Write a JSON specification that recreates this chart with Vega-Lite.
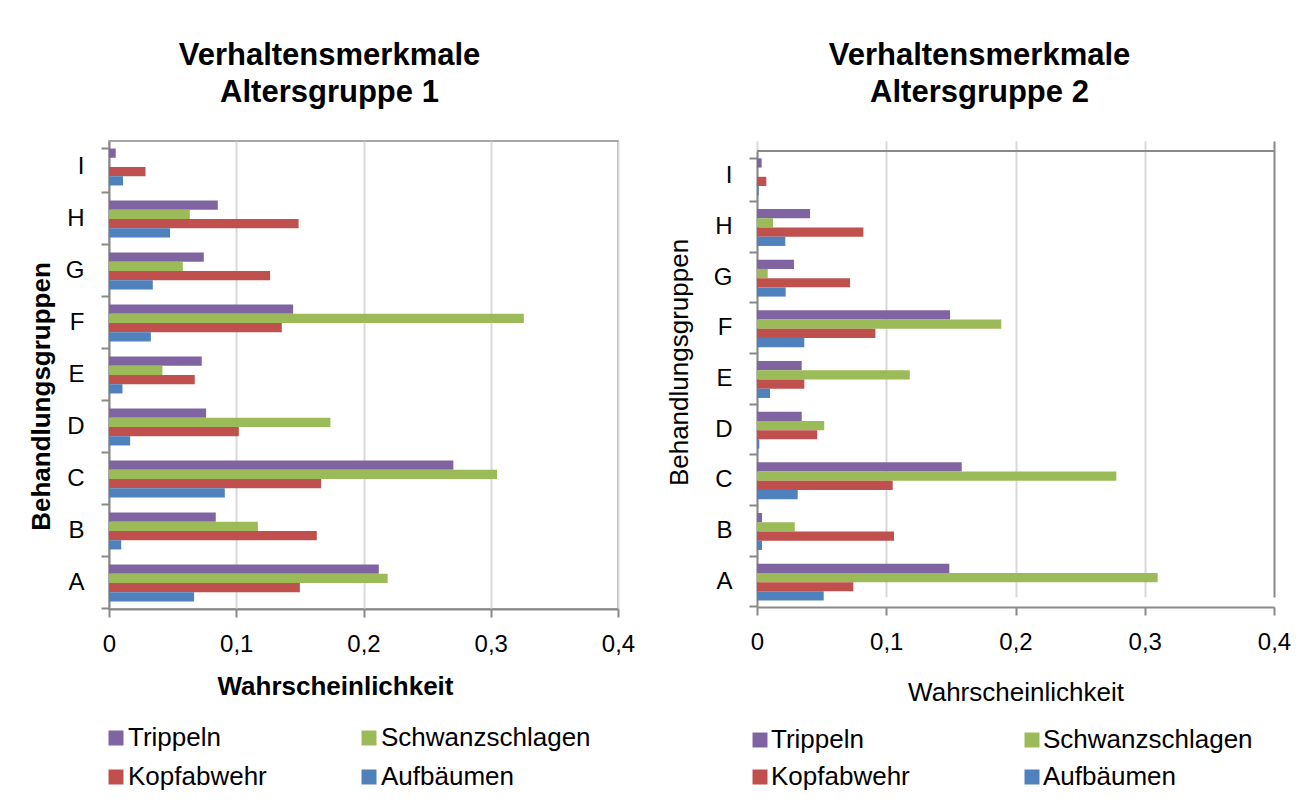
{
  "$schema": "https://vega.github.io/schema/vega-lite/v6.json",
  "padding": {"left": 27, "top": 39, "right": 5, "bottom": 5},
  "background": "white",
  "spacing": 30,
  "config": {
    "font": "Liberation Sans",
    "view": {"stroke": "#898989", "strokeWidth": 1.5},
    "axis": {"labelColor": "black", "titleColor": "black", "domainColor": "#898989", "domainWidth": 2, "tickColor": "#898989", "tickWidth": 2, "tickSize": 8, "gridColor": "#D9D9D9", "gridWidth": 2, "labelFont": "Liberation Sans", "titleFont": "Liberation Sans"},
    "legend": {"labelColor": "black", "labelFont": "Liberation Sans", "labelLimit": 0},
    "title": {"color": "black", "font": "Liberation Sans"}
  },
  "datasets": {
    "g1": [
      {"Gruppe": "I", "Merkmal": "Trippeln", "Wert": 0.0053},
      {"Gruppe": "I", "Merkmal": "Schwanzschlagen", "Wert": 0},
      {"Gruppe": "I", "Merkmal": "Kopfabwehr", "Wert": 0.0287},
      {"Gruppe": "I", "Merkmal": "Aufbäumen", "Wert": 0.011},
      {"Gruppe": "H", "Merkmal": "Trippeln", "Wert": 0.0855},
      {"Gruppe": "H", "Merkmal": "Schwanzschlagen", "Wert": 0.0635},
      {"Gruppe": "H", "Merkmal": "Kopfabwehr", "Wert": 0.149},
      {"Gruppe": "H", "Merkmal": "Aufbäumen", "Wert": 0.048},
      {"Gruppe": "G", "Merkmal": "Trippeln", "Wert": 0.0745},
      {"Gruppe": "G", "Merkmal": "Schwanzschlagen", "Wert": 0.058},
      {"Gruppe": "G", "Merkmal": "Kopfabwehr", "Wert": 0.1266},
      {"Gruppe": "G", "Merkmal": "Aufbäumen", "Wert": 0.0344},
      {"Gruppe": "F", "Merkmal": "Trippeln", "Wert": 0.1447},
      {"Gruppe": "F", "Merkmal": "Schwanzschlagen", "Wert": 0.326},
      {"Gruppe": "F", "Merkmal": "Kopfabwehr", "Wert": 0.1358},
      {"Gruppe": "F", "Merkmal": "Aufbäumen", "Wert": 0.0329},
      {"Gruppe": "E", "Merkmal": "Trippeln", "Wert": 0.0729},
      {"Gruppe": "E", "Merkmal": "Schwanzschlagen", "Wert": 0.042},
      {"Gruppe": "E", "Merkmal": "Kopfabwehr", "Wert": 0.0674},
      {"Gruppe": "E", "Merkmal": "Aufbäumen", "Wert": 0.0106},
      {"Gruppe": "D", "Merkmal": "Trippeln", "Wert": 0.0763},
      {"Gruppe": "D", "Merkmal": "Schwanzschlagen", "Wert": 0.174},
      {"Gruppe": "D", "Merkmal": "Kopfabwehr", "Wert": 0.102},
      {"Gruppe": "D", "Merkmal": "Aufbäumen", "Wert": 0.0166},
      {"Gruppe": "C", "Merkmal": "Trippeln", "Wert": 0.2706},
      {"Gruppe": "C", "Merkmal": "Schwanzschlagen", "Wert": 0.305},
      {"Gruppe": "C", "Merkmal": "Kopfabwehr", "Wert": 0.1667},
      {"Gruppe": "C", "Merkmal": "Aufbäumen", "Wert": 0.091},
      {"Gruppe": "B", "Merkmal": "Trippeln", "Wert": 0.0839},
      {"Gruppe": "B", "Merkmal": "Schwanzschlagen", "Wert": 0.117},
      {"Gruppe": "B", "Merkmal": "Kopfabwehr", "Wert": 0.1633},
      {"Gruppe": "B", "Merkmal": "Aufbäumen", "Wert": 0.0096},
      {"Gruppe": "A", "Merkmal": "Trippeln", "Wert": 0.212},
      {"Gruppe": "A", "Merkmal": "Schwanzschlagen", "Wert": 0.219},
      {"Gruppe": "A", "Merkmal": "Kopfabwehr", "Wert": 0.150},
      {"Gruppe": "A", "Merkmal": "Aufbäumen", "Wert": 0.0669}
    ],
    "g2": [
      {"Gruppe": "I", "Merkmal": "Trippeln", "Wert": 0.0036},
      {"Gruppe": "I", "Merkmal": "Schwanzschlagen", "Wert": 0},
      {"Gruppe": "I", "Merkmal": "Kopfabwehr", "Wert": 0.0072},
      {"Gruppe": "I", "Merkmal": "Aufbäumen", "Wert": 0.0013},
      {"Gruppe": "H", "Merkmal": "Trippeln", "Wert": 0.041},
      {"Gruppe": "H", "Merkmal": "Schwanzschlagen", "Wert": 0.0124},
      {"Gruppe": "H", "Merkmal": "Kopfabwehr", "Wert": 0.0823},
      {"Gruppe": "H", "Merkmal": "Aufbäumen", "Wert": 0.0219},
      {"Gruppe": "G", "Merkmal": "Trippeln", "Wert": 0.0286},
      {"Gruppe": "G", "Merkmal": "Schwanzschlagen", "Wert": 0.0083},
      {"Gruppe": "G", "Merkmal": "Kopfabwehr", "Wert": 0.072},
      {"Gruppe": "G", "Merkmal": "Aufbäumen", "Wert": 0.0222},
      {"Gruppe": "F", "Merkmal": "Trippeln", "Wert": 0.1494},
      {"Gruppe": "F", "Merkmal": "Schwanzschlagen", "Wert": 0.189},
      {"Gruppe": "F", "Merkmal": "Kopfabwehr", "Wert": 0.0916},
      {"Gruppe": "F", "Merkmal": "Aufbäumen", "Wert": 0.0366},
      {"Gruppe": "E", "Merkmal": "Trippeln", "Wert": 0.0346},
      {"Gruppe": "E", "Merkmal": "Schwanzschlagen", "Wert": 0.1182},
      {"Gruppe": "E", "Merkmal": "Kopfabwehr", "Wert": 0.0366},
      {"Gruppe": "E", "Merkmal": "Aufbäumen", "Wert": 0.0101},
      {"Gruppe": "D", "Merkmal": "Trippeln", "Wert": 0.0346},
      {"Gruppe": "D", "Merkmal": "Schwanzschlagen", "Wert": 0.052},
      {"Gruppe": "D", "Merkmal": "Kopfabwehr", "Wert": 0.0466},
      {"Gruppe": "D", "Merkmal": "Aufbäumen", "Wert": 0.0018},
      {"Gruppe": "C", "Merkmal": "Trippeln", "Wert": 0.1584},
      {"Gruppe": "C", "Merkmal": "Schwanzschlagen", "Wert": 0.278},
      {"Gruppe": "C", "Merkmal": "Kopfabwehr", "Wert": 0.105},
      {"Gruppe": "C", "Merkmal": "Aufbäumen", "Wert": 0.0315},
      {"Gruppe": "B", "Merkmal": "Trippeln", "Wert": 0.0039},
      {"Gruppe": "B", "Merkmal": "Schwanzschlagen", "Wert": 0.0292},
      {"Gruppe": "B", "Merkmal": "Kopfabwehr", "Wert": 0.106},
      {"Gruppe": "B", "Merkmal": "Aufbäumen", "Wert": 0.0039},
      {"Gruppe": "A", "Merkmal": "Trippeln", "Wert": 0.1488},
      {"Gruppe": "A", "Merkmal": "Schwanzschlagen", "Wert": 0.31},
      {"Gruppe": "A", "Merkmal": "Kopfabwehr", "Wert": 0.0745},
      {"Gruppe": "A", "Merkmal": "Aufbäumen", "Wert": 0.0516}
    ]
  },
  "resolve": {"legend": {"color": "independent"}},
  "hconcat": [
    {
      "width": 509,
      "height": 468,
      "data": {"name": "g1"},
      "title": {"text": ["Verhaltensmerkmale", "Altersgruppe 1"], "fontSize": 31, "fontWeight": "bold", "lineHeight": 37, "baseline": "alphabetic", "offset": -4, "dx": -34, "anchor": "middle"},
      "mark": {"type": "bar"},
      "encoding": {
        "y": {"field": "Gruppe", "type": "nominal", "sort": ["I", "H", "G", "F", "E", "D", "C", "B", "A"], "scale": {"domain": ["I", "H", "G", "F", "E", "D", "C", "B", "A"], "paddingInner": 0.29, "paddingOuter": 0.145},
          "axis": {"title": "Behandlungsgruppen", "titleFontSize": 26, "titleFontWeight": "bold", "titleY": 255, "titlePadding": 11, "labelFontSize": 24, "labelPadding": 17, "bandPosition": 1.204, "tickExtra": true, "labelAngle": 0}},
        "yOffset": {"field": "Merkmal", "sort": ["Trippeln", "Schwanzschlagen", "Kopfabwehr", "Aufbäumen"]},
        "x": {"field": "Wert", "type": "quantitative", "scale": {"domain": [0, 0.4]},
          "axis": {"values": [0, 0.1, 0.2, 0.3, 0.4], "labelFlush": false, "labelExpr": "datum.value == 0 ? '0' : replace(format(datum.value, '.1f'), '.', ',')", "title": "Wahrscheinlichkeit", "titleFontSize": 26, "titleFontWeight": "bold", "titleX": 226, "labelFontSize": 24, "labelPadding": 15, "titlePadding": 17, "grid": true}},
        "color": {"field": "Merkmal", "type": "nominal", "scale": {"domain": ["Trippeln", "Schwanzschlagen", "Kopfabwehr", "Aufbäumen"], "range": ["#8064A2", "#9BBB59", "#C0504D", "#4F81BD"]},
          "legend": {"orient": "bottom", "title": null, "columns": 2, "symbolType": "square", "symbolSize": 225, "symbolStrokeWidth": 0, "symbolOffset": -6, "labelFontSize": 26, "labelOffset": -1, "labelLimit": 0, "columnPadding": 94, "rowPadding": 13, "offset": 26}}
      }
    },
    {
      "width": 517,
      "height": 466,
      "view": {"stroke": null},
      "title": {"text": ["Verhaltensmerkmale", "Altersgruppe 2"], "fontSize": 31, "fontWeight": "bold", "lineHeight": 37, "baseline": "alphabetic", "offset": -4, "dx": -36, "anchor": "middle"},
      "layer": [
        {
          "data": {"name": "g2"},
          "mark": {"type": "bar"},
          "encoding": {
            "y": {"field": "Gruppe", "type": "nominal", "sort": ["I", "H", "G", "F", "E", "D", "C", "B", "A"], "scale": {"domain": ["I", "H", "G", "F", "E", "D", "C", "B", "A"], "range": [10, 466], "paddingInner": 0.29, "paddingOuter": 0.145},
              "axis": {"title": "Behandlungsgruppen", "titleFontSize": 26, "titleFontWeight": "normal", "titleY": 221, "titlePadding": 21, "labelFontSize": 24, "labelPadding": 17, "bandPosition": 1.204, "tickExtra": true, "labelAngle": 0}},
            "yOffset": {"field": "Merkmal", "sort": ["Trippeln", "Schwanzschlagen", "Kopfabwehr", "Aufbäumen"]},
            "x": {"field": "Wert", "type": "quantitative", "scale": {"domain": [0, 0.4]},
              "axis": {"values": [0, 0.1, 0.2, 0.3, 0.4], "labelFlush": false, "labelExpr": "datum.value == 0 ? '0' : replace(format(datum.value, '.1f'), '.', ',')", "title": "Wahrscheinlichkeit", "titleFontSize": 26, "titleFontWeight": "normal", "labelFontSize": 24, "labelPadding": 15, "titlePadding": 25, "grid": true,
                "gridColor": {"condition": {"test": "datum.value >= 0.4", "value": "#898989"}, "value": "#D9D9D9"}}},
            "color": {"field": "Merkmal", "type": "nominal", "scale": {"domain": ["Trippeln", "Schwanzschlagen", "Kopfabwehr", "Aufbäumen"], "range": ["#8064A2", "#9BBB59", "#C0504D", "#4F81BD"]},
              "legend": {"orient": "bottom", "title": null, "columns": 2, "symbolType": "square", "symbolSize": 225, "symbolStrokeWidth": 0, "symbolOffset": -10, "labelFontSize": 26, "labelOffset": -2, "labelLimit": 0, "columnPadding": 114, "rowPadding": 11, "offset": 22}}
          }
        },
        {
          "data": {"values": [{"Rand": "oben"}]},
          "mark": {"type": "rule", "color": "#898989", "strokeWidth": 2},
          "encoding": {
            "y": {"datum": "I", "type": "nominal", "bandPosition": -0.204},
            "x": {"datum": 0, "type": "quantitative"},
            "x2": {"datum": 0.4}
          }
        }
      ]
    }
  ]
}
